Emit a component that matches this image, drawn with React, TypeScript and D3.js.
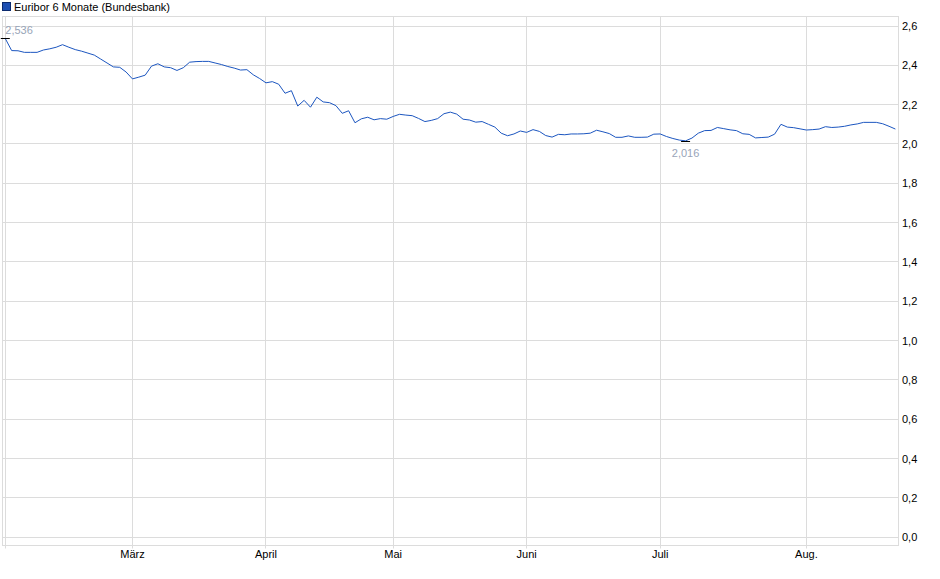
import * as d3 from "d3";

const width = 940;
const height = 579;
const plot = { left: 2.5, right: 898.5, top: 16.5, bottom: 545.5 };

// Euribor 6 Monate, ein Wert je Handelstag (Feb. bis Aug.)
const rates = [
  2.536, 2.475, 2.474, 2.466, 2.466, 2.466, 2.478, 2.484, 2.492, 2.505,
  2.492, 2.48, 2.472, 2.462, 2.452, 2.432, 2.412, 2.392, 2.39, 2.366,
  2.331, 2.34, 2.35, 2.396, 2.408, 2.392, 2.388, 2.374, 2.388, 2.416,
  2.419, 2.42, 2.42, 2.412, 2.404, 2.394, 2.386, 2.376, 2.378, 2.352,
  2.333, 2.311, 2.317, 2.304, 2.258, 2.271, 2.193, 2.222, 2.187, 2.238,
  2.214, 2.21, 2.195, 2.156, 2.169, 2.108, 2.128, 2.136, 2.123, 2.129,
  2.126, 2.14, 2.151, 2.147, 2.144, 2.13, 2.114, 2.12, 2.129, 2.154,
  2.162, 2.152, 2.126, 2.122, 2.111, 2.114, 2.1, 2.086, 2.055, 2.042,
  2.051, 2.066, 2.059, 2.073, 2.064, 2.043, 2.035, 2.049, 2.047, 2.051,
  2.051, 2.052, 2.055, 2.07, 2.062, 2.053, 2.034, 2.034, 2.041, 2.034,
  2.034, 2.035, 2.05, 2.051, 2.038, 2.028, 2.02, 2.016, 2.03, 2.055,
  2.068, 2.069, 2.084, 2.078, 2.072, 2.068, 2.052, 2.049, 2.031, 2.033,
  2.035, 2.05, 2.1, 2.086, 2.083, 2.077, 2.071, 2.073, 2.076, 2.088,
  2.084, 2.086, 2.09, 2.097, 2.102, 2.11, 2.11, 2.11, 2.103, 2.09,
  2.076,
];

// erster Handelstag je Monat (Index in rates)
const monthStarts = [0, 20, 41, 61, 82, 103, 126];
const monthLabels = ["", "März", "April", "Mai", "Juni", "Juli", "Aug."];

const yTicks = [0, 0.2, 0.4, 0.6, 0.8, 1.0, 1.2, 1.4, 1.6, 1.8, 2.0, 2.2, 2.4, 2.6];

const seriesName = "Euribor 6 Monate (Bundesbank)";

const gridColor = "#dcdcdc";
const lineColor = "#1c56c0";
const noteColor = "#98a4b8";
const font = "'Liberation Sans', Arial, sans-serif";

const fmt = (v: number) => d3.format(".3f")(v).replace(".", ",");
const fmtTick = (v: number) => d3.format(".1f")(v).replace(".", ",");
const crisp = (v: number) => Math.round(v - 0.5) + 0.5;

export default function App() {
  const x = d3
    .scaleLinear()
    .domain([0, rates.length - 1])
    .range([5.3, 895.4]);

  const y = d3.scaleLinear().domain([0, 2.6]).range([537.3, 26]);

  const line = d3
    .line<number>()
    .x((_, i) => x(i))
    .y((d) => y(d));

  const maxIndex = d3.maxIndex(rates);
  const minIndex = d3.minIndex(rates);

  return (
    <>
      <style>{`body{margin:0}`}</style>
      <svg width={width} height={height} style={{ display: "block", fontFamily: font }}>
        <rect width={width} height={height} fill="#ffffff" />

        {/* Legende */}
        <rect x={2.5} y={2.5} width={8} height={8} fill="#1d4fb2" stroke="#0b2a6e" />
        <text x={14} y={11} fontSize={11} fill="#000">
          {seriesName}
        </text>

        {/* horizontale Gitterlinien */}
        {yTicks.map((t) => (
          <line
            key={`gy-${t}`}
            x1={plot.left}
            x2={plot.right}
            y1={crisp(y(t))}
            y2={crisp(y(t))}
            stroke={gridColor}
          />
        ))}

        {/* vertikale Monatslinien */}
        {monthStarts.map((m) => (
          <line
            key={`gx-${m}`}
            x1={crisp(x(m))}
            x2={crisp(x(m))}
            y1={plot.top}
            y2={plot.bottom + 3}
            stroke={gridColor}
          />
        ))}

        {/* Rahmen */}
        <rect
          x={plot.left}
          y={plot.top}
          width={plot.right - plot.left}
          height={plot.bottom - plot.top}
          fill="none"
          stroke={gridColor}
        />

        {/* y-Achse rechts */}
        {yTicks.map((t) => (
          <text
            key={`ty-${t}`}
            x={902}
            y={y(t) + 4}
            fontSize={11}
            fill="#000"
          >
            {fmtTick(t)}
          </text>
        ))}

        {/* x-Achse */}
        {monthStarts.map((m, i) => (
          <text
            key={`tx-${m}`}
            x={x(m)}
            y={558}
            fontSize={11}
            textAnchor="middle"
            fill="#000"
          >
            {monthLabels[i]}
          </text>
        ))}

        {/* Kurve */}
        <path d={line(rates) ?? ""} fill="none" stroke={lineColor} strokeWidth={1} />

        {/* Hoch / Tief */}
        <line
          x1={x(maxIndex) - 4.5}
          x2={x(maxIndex) + 4.5}
          y1={crisp(y(rates[maxIndex]))}
          y2={crisp(y(rates[maxIndex]))}
          stroke="#000"
        />
        <text x={x(maxIndex)} y={y(rates[maxIndex]) - 5} fontSize={11} fill={noteColor}>
          {fmt(rates[maxIndex])}
        </text>

        <line
          x1={x(minIndex) - 4.5}
          x2={x(minIndex) + 4.5}
          y1={crisp(y(rates[minIndex])) + 1}
          y2={crisp(y(rates[minIndex])) + 1}
          stroke="#000"
        />
        <text
          x={x(minIndex)}
          y={y(rates[minIndex]) + 16}
          fontSize={11}
          textAnchor="middle"
          fill={noteColor}
        >
          {fmt(rates[minIndex])}
        </text>
      </svg>
    </>
  );
}
